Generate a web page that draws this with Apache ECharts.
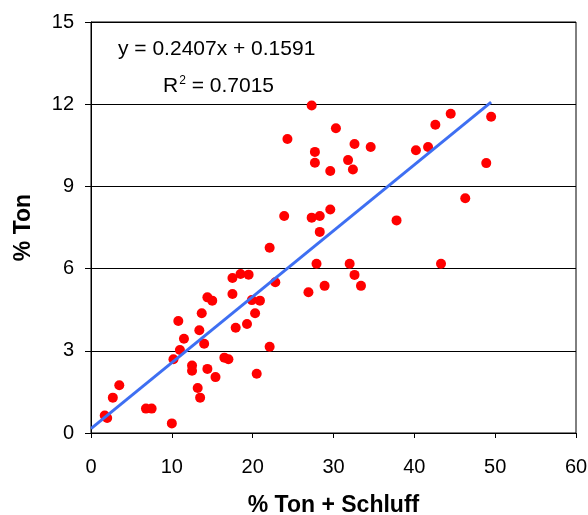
<!DOCTYPE html>
<html>
<head>
<meta charset="utf-8">
<script src="https://cdn.jsdelivr.net/npm/echarts@6/dist/echarts.min.js"></script>
<style>
  html, body { margin: 0; padding: 0; background: #fff; }
  #chart { width: 588px; height: 515px; }
</style>
</head>
<body>
<div id="chart"></div>
<script>
// Ton + Schluff content (x) and Ton content (y) per sample, in percent
const tonSchluff = [
  1.7, 2.0, 2.7, 3.5, 6.8, 7.5, 10.0, 10.2, 11.0, 10.8,
  11.5, 12.5, 12.5, 13.2, 13.5, 13.4, 14.0, 13.7, 14.4, 15.4,
  14.4, 15.0, 16.5, 17.0, 17.9, 17.5, 17.5, 18.5, 19.5, 19.3,
  19.9, 20.9, 20.3, 20.5, 22.1, 22.8, 27.3, 30.3, 24.3, 32.6,
  34.6, 27.7, 27.7, 31.8, 32.4, 29.6, 23.9, 27.3, 28.3, 29.6,
  28.3, 22.1, 37.8, 27.9, 32.0, 32.6, 33.4, 28.9, 26.9, 44.5,
  42.6, 49.5, 40.2, 41.7, 48.9, 46.3, 43.3
];
const ton = [
  0.64, 0.55, 1.29, 1.74, 0.89, 0.89, 0.35, 2.69, 3.03, 4.09,
  3.44, 2.46, 2.27, 1.64, 1.29, 3.75, 3.26, 4.37, 2.34, 2.04,
  4.95, 4.83, 2.75, 2.69, 3.84, 5.07, 5.66, 5.80, 5.78, 3.98,
  4.85, 4.83, 4.37, 2.16, 3.15, 5.50, 11.95, 11.12, 10.73, 10.55,
  10.44, 10.26, 9.86, 9.96, 9.62, 9.56, 7.92, 7.86, 7.92, 8.16,
  7.34, 6.76, 7.76, 6.18, 6.18, 5.77, 5.37, 5.37, 5.14, 11.65,
  11.25, 11.54, 10.32, 10.44, 9.85, 8.57, 6.18
];

// Linear trend as stated in the equation label
const slope = 0.2407;
const intercept = 0.1591;
const rSquared = '0.7015';

const xTicks = [0, 10, 20, 30, 40, 50, 60];
const yTicks = [0, 3, 6, 9, 12, 15];

const points = tonSchluff.map((x, i) => [x, ton[i]]);
const xEnd = Math.max(...tonSchluff);
const trend = [[0, intercept], [xEnd, slope * xEnd + intercept]];

const FONT = '"Liberation Sans", Arial, sans-serif';

const chart = echarts.init(document.getElementById('chart'), null, { renderer: 'canvas' });
chart.setOption({
  animation: false,
  backgroundColor: '#ffffff',
  grid: {
    left: 91, right: 12, top: 22, bottom: 82,
    containLabel: false,
    outerBoundsMode: 'none',
    show: true, borderColor: '#000', borderWidth: 1, backgroundColor: 'transparent'
  },
  xAxis: {
    type: 'value',
    min: xTicks[0], max: xTicks[xTicks.length - 1], interval: 10,
    name: '% Ton + Schluff',
    nameLocation: 'middle',
    nameGap: 61,
    nameTextStyle: { fontFamily: FONT, fontSize: 23, fontWeight: 'bold', color: '#000' },
    axisLine: { show: true, lineStyle: { color: '#000', width: 1 } },
    axisTick: { show: true, inside: false, length: 5, lineStyle: { color: '#000' } },
    axisLabel: { fontFamily: FONT, fontSize: 20, color: '#000', margin: 24 },
    splitLine: { show: false }
  },
  yAxis: {
    type: 'value',
    min: yTicks[0], max: yTicks[yTicks.length - 1], interval: 3,
    name: '% Ton',
    nameLocation: 'middle',
    nameGap: 56,
    nameRotate: 90,
    nameTextStyle: { fontFamily: FONT, fontSize: 23, fontWeight: 'bold', color: '#000' },
    axisLine: { show: true, lineStyle: { color: '#000', width: 1 } },
    axisTick: { show: true, inside: false, length: 6, lineStyle: { color: '#000' } },
    axisLabel: { fontFamily: FONT, fontSize: 20, color: '#000', margin: 17 },
    splitLine: { show: true, lineStyle: { color: '#000', width: 1 } }
  },
  series: [
    {
      type: 'scatter',
      data: points,
      symbol: 'circle',
      symbolSize: 10,
      itemStyle: { color: '#ff0000', opacity: 1 },
      z: 2
    },
    {
      type: 'line',
      data: trend,
      showSymbol: false,
      lineStyle: { color: '#3e6ff2', width: 3 },
      z: 3
    }
  ],
  graphic: [
    {
      type: 'text',
      left: 118, top: 39,
      style: {
        text: 'y = ' + slope + 'x + ' + intercept,
        font: '21px ' + FONT,
        fill: '#000'
      }
    },
    {
      type: 'text',
      left: 163, top: 75,
      style: {
        text: '{r|R}{s|2}{r| = ' + rSquared + '}',
        rich: {
          r: { fontFamily: FONT, fontSize: 21, fill: '#000', color: '#000', verticalAlign: 'bottom' },
          s: { fontFamily: FONT, fontSize: 12, fill: '#000', color: '#000', verticalAlign: 'top', padding: [0, 0, 10, 1] }
        }
      }
    }
  ]
});
</script>
</body>
</html>
